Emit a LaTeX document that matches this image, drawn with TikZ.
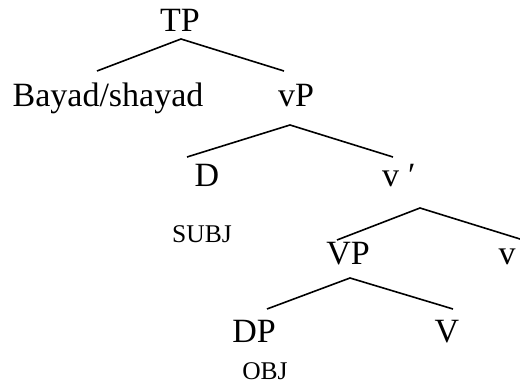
\documentclass[tikz,border=0pt]{standalone}
\usepackage{fontspec}
\setmainfont{Liberation Serif}
\begin{document}
\begin{tikzpicture}[x=1pt,y=-1pt,
  big/.style={font=\fontsize{34}{40}\selectfont, inner sep=0pt, anchor=base},
  small/.style={font=\fontsize{25.5}{30}\selectfont, inner sep=0pt, anchor=base},
  branch/.style={line width=1.6pt}]
\useasboundingbox (0,0) rectangle (520,387);
% labels
\node[big] (TP) at (180,32) {TP};
\node[big] (bayad) at (108,107) {Bayad/shayad};
\node[big] (vP) at (296,107) {vP};
\node[big] (D) at (207,187) {D};
\node[big,anchor=base west] (vbar) at (382,187) {v\hspace{9pt}\char"2032};
\node[small] (subj) at (202,243) {SUBJ};
\node[big] (VP) at (348,265) {VP};
\node[big] (vhead) at (507,265) {v};
\node[big] (DP) at (254,343) {DP};
\node[big] (V) at (447,343) {V};
\node[small] (obj) at (265,380) {OBJ};
% branch points
\coordinate (TPa) at (181,39);
\coordinate (TPl) at (97,71);
\coordinate (TPr) at (284,71);
\coordinate (vPa) at (290,125);
\coordinate (vPl) at (187,157);
\coordinate (vPr) at (393,157);
\coordinate (vba) at (420,208);
\coordinate (vbl) at (337,240);
\coordinate (vbr) at (520,239);
\coordinate (VPa) at (350,278);
\coordinate (VPl) at (267,309);
\coordinate (VPr) at (453,309);
\draw[branch] (TPl) -- (TPa) -- (TPr);
\draw[branch] (vPl) -- (vPa) -- (vPr);
\draw[branch] (vbl) -- (vba) -- (vbr);
\draw[branch] (VPl) -- (VPa) -- (VPr);
\end{tikzpicture}
\end{document}
